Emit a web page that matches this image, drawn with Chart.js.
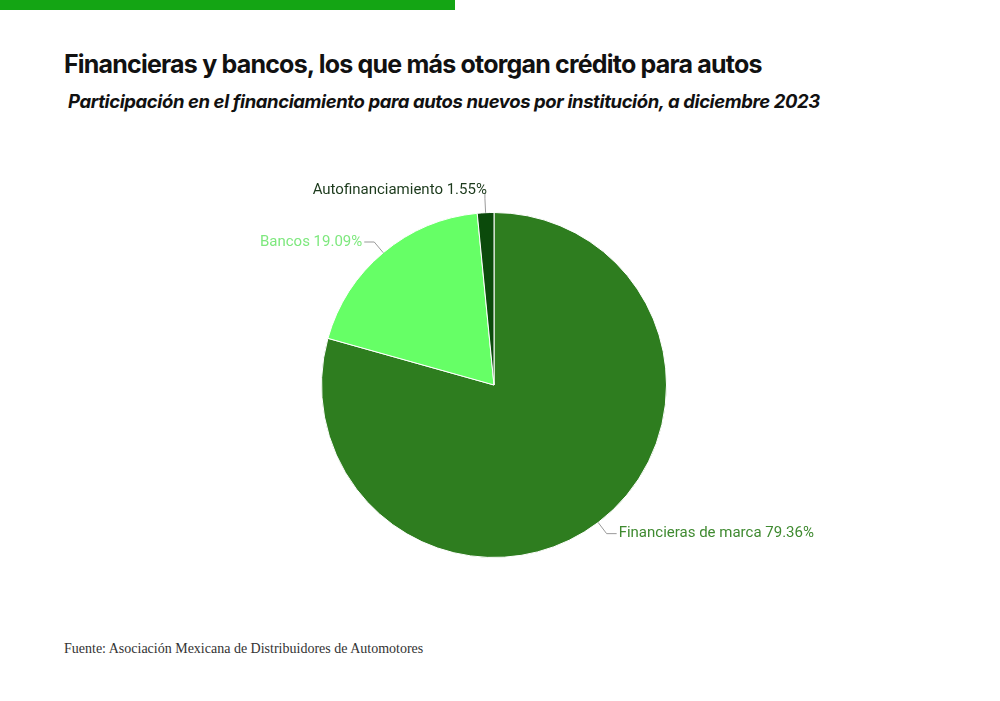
<!DOCTYPE html>
<html>
<head>
<meta charset="utf-8">
<script src="https://cdn.jsdelivr.net/npm/chart.js@4.4.0/dist/chart.umd.min.js"></script>
<style>
  body { margin: 0; background: #fff; width: 1000px; height: 701px; overflow: hidden; position: relative; }
  #bar { position: absolute; left: 0; top: 0; width: 455px; height: 10px; background: #14a514; }
  h1 { position: absolute; left: 64px; top: 49px; margin: 0; font: bold 25px "Inter", "Roboto", sans-serif; letter-spacing: -0.8px; color: #111; }
  h2 { position: absolute; left: 68px; top: 90px; margin: 0; font: italic bold 18.5px "Inter", "Roboto", sans-serif; letter-spacing: -0.4px; color: #111; }
  #src { position: absolute; left: 64px; top: 641px; font: 14px "Liberation Serif", serif; color: #333; }
  canvas { position: absolute; left: 0; top: 0; }
</style>
</head>
<body>
<div id="bar"></div>
<h1>Financieras y bancos, los que más otorgan crédito para autos</h1>
<h2>Participación en el financiamiento para autos nuevos por institución, a diciembre 2023</h2>
<div id="src">Fuente: Asociación Mexicana de Distribuidores de Automotores</div>
<div style="position:absolute;left:0;top:0;width:1000px;height:701px"><canvas id="c"></canvas></div>
<script>
const labels = ['Financieras de marca', 'Bancos', 'Autofinanciamiento'];
const values = [79.36, 19.09, 1.55];
const colors = ['#2e7d1f', '#66ff66', '#0b4a0b'];
const labelColors = ['#3f8a30', '#7ee87e', '#1c3a1c'];

const pieLabels = {
  id: 'pieLabels',
  afterDraw(chart) {
    const ctx = chart.ctx;
    const arcs = chart.getDatasetMeta(0).data;
    ctx.save();
    ctx.font = '15px Roboto, sans-serif';
    ctx.textBaseline = 'middle';
    arcs.forEach((a, i) => {
      const mid = (a.startAngle + a.endAngle) / 2;
      const r = a.outerRadius;
      const x0 = a.x + Math.cos(mid) * r, y0 = a.y + Math.sin(mid) * r;
      const x1 = a.x + Math.cos(mid) * (r + 14), y1 = a.y + Math.sin(mid) * (r + 14);
      const right = Math.cos(mid) > 0.05;
      const text = labels[i] + ' ' + values[i].toFixed(2) + '%';
      let tx, ty = y1, lx;
      if (i === 2) { lx = x1; ty = y1 - 6; }
      else { lx = right ? x1 + 10 : x1 - 10; }
      ctx.strokeStyle = '#999';
      ctx.lineWidth = 1;
      ctx.beginPath();
      ctx.moveTo(x0, y0); ctx.lineTo(x1, y1); ctx.lineTo(lx, ty); ctx.stroke();
      ctx.fillStyle = labelColors[i];
      ctx.textAlign = right ? 'left' : 'right';
      tx = right ? lx + 2 : lx - 2;
      if (i === 2) { ctx.textAlign = 'right'; tx = lx + 2; ty -= 2; }
      ctx.fillText(text, tx, ty);
    });
    ctx.restore();
  }
};

new Chart(document.getElementById('c'), {
  type: 'pie',
  data: { labels: labels, datasets: [{ data: values, backgroundColor: colors, borderColor: '#ffffff', borderWidth: 1 }] },
  options: {
    responsive: true,
    maintainAspectRatio: false,
    animation: false,
    layout: { padding: { left: 321, right: 333, top: 212, bottom: 143 } },
    plugins: { legend: { display: false }, tooltip: { enabled: false } }
  },
  plugins: [pieLabels]
});
</script>
</body>
</html>
